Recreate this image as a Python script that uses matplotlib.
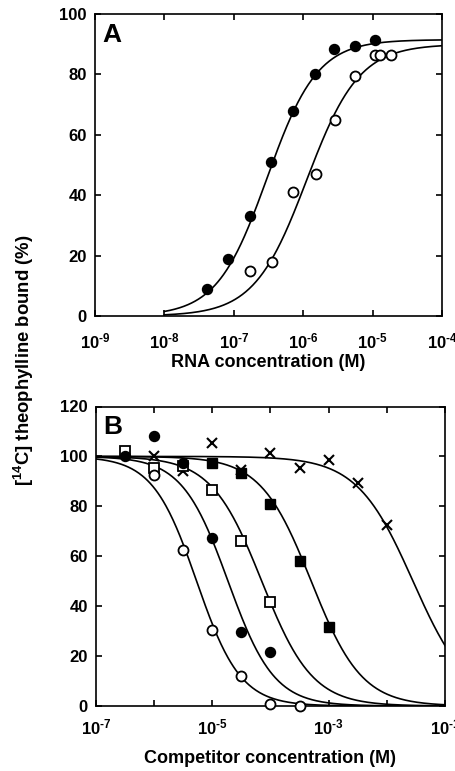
import numpy as np
import matplotlib
matplotlib.use("Agg")
import matplotlib.pyplot as plt

plt.rcParams['font.family'] = ['Liberation Sans', 'DejaVu Sans']
plt.rcParams['font.weight'] = 'bold'
plt.rcParams['mathtext.fontset'] = 'custom'
plt.rcParams['mathtext.rm'] = 'Liberation Sans:bold'
plt.rcParams['mathtext.it'] = 'Liberation Sans:bold'
plt.rcParams['mathtext.bf'] = 'Liberation Sans:bold'
plt.rcParams['mathtext.default'] = 'rm'

# ---------------- Panel A data ----------------
a_filled_logx = [-7.39, -7.08, -6.76, -6.46, -6.15, -5.83, -5.55, -5.25, -4.96]
a_filled_y = [9.0, 19.0, 33.0, 51.0, 68.0, 80.0, 88.5, 89.5, 91.5]
a_open_logx = [-6.76, -6.45, -6.15, -5.82, -5.54, -5.25, -4.96, -4.90, -4.74]
a_open_y = [15.0, 18.0, 41.0, 47.0, 65.0, 79.5, 86.5, 86.5, 86.5]
# fitted curves (top, log EC50, Hill slope)
a_filled_fit = [91.5, -6.52, 1.2]
a_open_fit = [90.0, -5.95, 1.15]
a_curve_range = [-8, -4]
a_xticks = [-9, -8, -7, -6, -5, -4]
a_xticklabels = [r'$10^{\text{-}9}$', r'$10^{\text{-}8}$', r'$10^{\text{-}7}$',
                 r'$10^{\text{-}6}$', r'$10^{\text{-}5}$', r'$10^{\text{-}4}$']
a_yticks = [0, 20, 40, 60, 80, 100]

# ---------------- Panel B data ----------------
b_open_circle_logx = [-6.0, -5.5, -5.0, -4.5, -4.0, -3.5]
b_open_circle_y = [92.5, 62.5, 30.5, 12.0, 1.0, 0.0]
b_filled_circle_logx = [-6.5, -6.0, -5.5, -5.0, -4.5, -4.0]
b_filled_circle_y = [100.0, 108.0, 97.5, 67.5, 29.5, 21.5]
b_open_square_logx = [-6.5, -6.0, -5.5, -5.0, -4.5, -4.0]
b_open_square_y = [102.0, 95.5, 96.0, 86.5, 66.0, 41.5]
b_filled_square_logx = [-5.0, -4.5, -4.0, -3.5, -3.0]
b_filled_square_y = [97.5, 93.5, 81.0, 58.0, 31.5]
b_cross_logx = [-6.0, -5.5, -5.0, -4.5, -4.0, -3.5, -3.0, -2.5, -2.0]
b_cross_y = [100.0, 94.0, 105.5, 94.5, 101.5, 95.5, 98.5, 89.5, 72.5]
# fitted inhibition curves (log IC50, Hill slope)
b_open_circle_fit = [-5.27, 1.15]
b_filled_circle_fit = [-4.73, 1.1]
b_open_square_fit = [-4.15, 1.0]
b_filled_square_fit = [-3.3, 1.0]
b_cross_fit = [-1.55, 0.9]
b_curve_range = [-7, -1]
b_xticks = [-7, -6, -5, -4, -3, -2, -1]
b_xticklabels = [r'$10^{\text{-}7}$', '', r'$10^{\text{-}5}$', '', r'$10^{\text{-}3}$', '',
                 r'$10^{\text{-}1}$']
b_yticks = [0, 20, 40, 60, 80, 100, 120]


def hill_up(lx, fit):
    top, lec, n = fit
    x = 10.0 ** np.asarray(lx)
    return top * x ** n / (x ** n + (10.0 ** lec) ** n)


def hill_down(lx, fit):
    lic, n = fit
    x = 10.0 ** np.asarray(lx)
    return 100.0 / (1.0 + (x / 10.0 ** lic) ** n)


fig = plt.figure(figsize=(4.56, 7.71), dpi=100)
axA = fig.add_axes([95 / 456, 1 - 316 / 771, 347 / 456, 302 / 771])
axB = fig.add_axes([96 / 456, 1 - 706 / 771, 349 / 456, 299.5 / 771])

lw = 1.2
ms_c = 7.2
ms_s = 6.5
mew = 1.3


def style(ax, xlim, ylim, xticks, xlabels, yticks, xpad):
    ax.set_xscale('log')
    ax.set_xlim(10.0 ** xlim[0], 10.0 ** xlim[1])
    ax.set_ylim(*ylim)
    ax.set_xticks([10.0 ** t for t in xticks])
    ax.set_xticklabels(xlabels)
    ax.xaxis.set_minor_locator(matplotlib.ticker.NullLocator())
    ax.set_yticks(yticks)
    ax.set_yticklabels([str(v) for v in yticks])
    ax.tick_params(axis='both', direction='in', top=True, right=True,
                   length=4.5, width=1.2, labelsize=12)
    ax.tick_params(axis='x', pad=xpad)
    ax.tick_params(axis='y', pad=6)
    for s in ax.spines.values():
        s.set_linewidth(1.2)


# Panel A
lxa = np.linspace(a_curve_range[0], a_curve_range[1], 400)
axA.plot(10.0 ** lxa, hill_up(lxa, a_filled_fit), color='black', lw=lw, zorder=2)
axA.plot(10.0 ** lxa, hill_up(lxa, a_open_fit), color='black', lw=lw, zorder=2)
axA.plot([10.0 ** v for v in a_filled_logx], a_filled_y, 'o', color='black', ms=ms_c, zorder=3)
axA.plot([10.0 ** v for v in a_open_logx], a_open_y, 'o', mfc='white', mec='black', mew=mew,
         ms=ms_c, zorder=3)
style(axA, [-9, -4], (0, 100), a_xticks, a_xticklabels, a_yticks, 11)
axA.set_xlabel('RNA concentration (M)', fontsize=13, fontweight='bold', labelpad=2)
axA.text(0.02, 0.97, 'A', transform=axA.transAxes, fontsize=19, fontweight='heavy',
         va='top', ha='left')

# Panel B
lxb = np.linspace(b_curve_range[0], b_curve_range[1], 400)
for fit in [b_open_circle_fit, b_filled_circle_fit, b_open_square_fit,
            b_filled_square_fit, b_cross_fit]:
    axB.plot(10.0 ** lxb, hill_down(lxb, fit), color='black', lw=lw, zorder=2)


def p(lx):
    return [10.0 ** v for v in lx]


axB.plot(p(b_cross_logx), b_cross_y, 'x', color='black', ms=6.5, mew=1.5, zorder=3)
axB.plot(p(b_filled_square_logx), b_filled_square_y, 's', color='black', ms=ms_s, zorder=3)
axB.plot(p(b_open_square_logx), b_open_square_y, 's', mfc='white', mec='black', mew=mew,
         ms=ms_s, zorder=3)
axB.plot(p(b_filled_circle_logx), b_filled_circle_y, 'o', color='black', ms=ms_c, zorder=3)
axB.plot(p(b_open_circle_logx), b_open_circle_y, 'o', mfc='white', mec='black', mew=mew,
         ms=ms_c, zorder=4, clip_on=False)
style(axB, [-7, -1], (0, 120), b_xticks, b_xticklabels, b_yticks, 8)
axB.set_xlabel('Competitor concentration (M)', fontsize=13, fontweight='bold', labelpad=9)
axB.text(0.02, 0.97, 'B', transform=axB.transAxes, fontsize=19, fontweight='heavy',
         va='top', ha='left')

fig.text(24 / 456, 1 - 360 / 771, '[$^{14}$C] theophylline bound (%)', rotation=90,
         ha='center', va='center', fontsize=13.3, fontweight='bold')

fig.savefig('out.png', dpi=100)
